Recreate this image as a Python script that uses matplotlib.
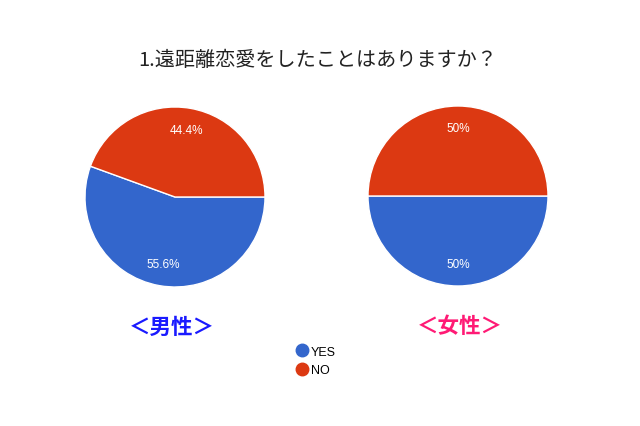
import matplotlib
matplotlib.use("Agg")
import matplotlib.pyplot as plt
from matplotlib.lines import Line2D

plt.rcParams['font.family'] = ['Noto Sans CJK JP', 'DejaVu Sans']

# data
title = "1.遠距離恋愛をしたことはありますか？"
labels = ["YES", "NO"]
male = [5, 4]
female = [4, 4]
colors = ["#3366CC", "#DC3912"]
group_names = ["＜男性＞", "＜女性＞"]
group_colors = ["#1a1aff", "#ff1a75"]

fig = plt.figure(figsize=(6.4, 4.27), dpi=100)
W, H = 640, 427


def pie_axes(cx, cy, r):
    return fig.add_axes([(cx - r) / W, (H - cy - r) / H, 2 * r / W, 2 * r / H])


for vals, (cx, cy) in zip([male, female], [(175, 198), (458, 197)]):
    ax = pie_axes(cx, cy, 90)
    wedges, texts, autotexts = ax.pie(
        vals, colors=colors, startangle=0, counterclock=False,
        autopct=lambda p: f"{p:.3g}%", pctdistance=0.76,
        wedgeprops=dict(edgecolor="white", linewidth=1),
        textprops=dict(color="white", fontsize=8.5, family="Liberation Sans"))
    ax.set_xlim(-1, 1)
    ax.set_ylim(-1, 1)
    ax.set_aspect("equal")
    ax.axis("off")

fig.text(318 / W, 1 - 61 / H, title, ha="center", va="center", fontsize=14.5, color="#222222")

for name, col, x in zip(group_names, group_colors, [172, 460]):
    fig.text(x / W, 1 - 327 / H, name, ha="center", va="center", fontsize=15.5,
             color=col, fontweight="bold")

handles = [Line2D([], [], marker="o", linestyle="", markersize=9, color=c) for c in colors]
fig.legend(handles, labels, loc="center", bbox_to_anchor=(316 / W, 1 - 362 / H),
           frameon=False, prop=dict(family="Liberation Sans", size=9),
           handletextpad=0.2, labelspacing=0.55, handlelength=1.0)

fig.savefig("out.png", dpi=100)
